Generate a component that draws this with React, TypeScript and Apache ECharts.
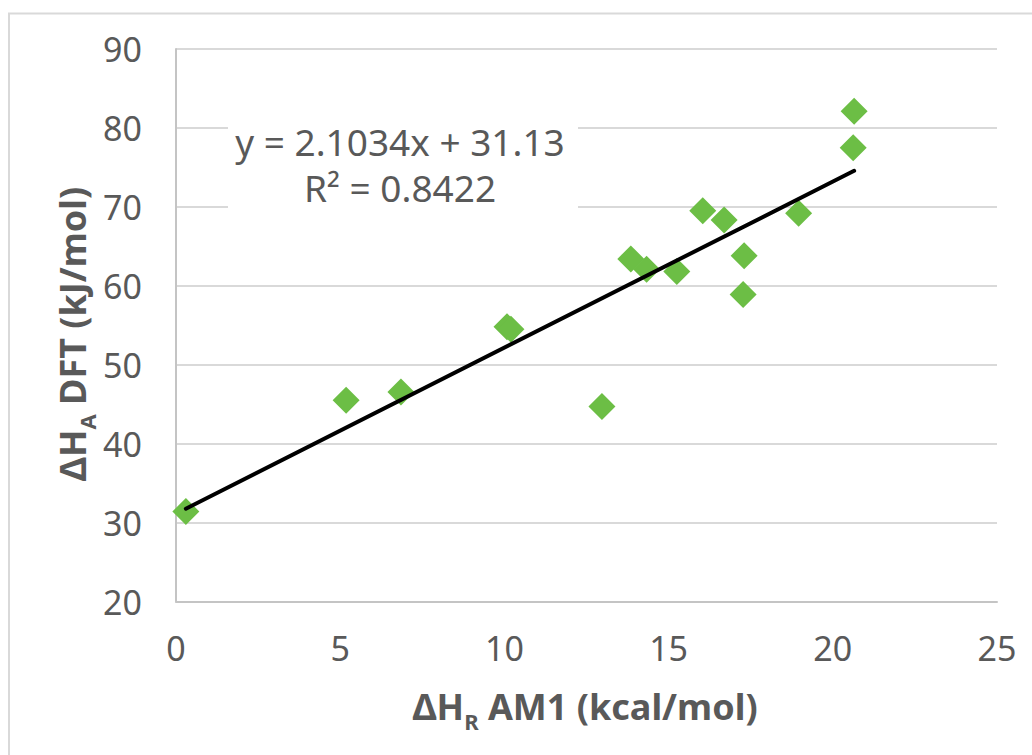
import React, { useEffect, useRef } from "react";
import * as echarts from "echarts";

const xValues = [0.3, 5.18, 6.85, 10.08, 10.2, 12.97, 13.85, 14.33, 15.25, 16.04, 16.69, 17.3, 17.27, 18.96, 20.65, 20.62];
const yValues = [31.4, 45.5, 46.55, 54.8, 54.5, 44.7, 63.4, 62.1, 61.8, 69.5, 68.35, 63.8, 58.9, 69.2, 82.1, 77.5];
const slope = 2.1034;
const intercept = 31.13;
const equationText = "y = 2.1034x + 31.13\nR² = 0.8422";
const xTitle = "{b|ΔH}{s|R}{b| AM1 (kcal/mol)}";
const yTitle = "{b|ΔH}{s|A}{b| DFT (kJ/mol)}";

const FONT = "'Noto Sans', 'Open Sans', sans-serif";
const TEXT = "#595959";
const GREEN = "#6cbe45";

export default function App() {
  const ref = useRef<HTMLDivElement>(null);
  useEffect(() => {
    document.body.style.margin = "0";
    if (!ref.current) return;
    const chart = echarts.init(ref.current, undefined, { renderer: "svg" });
    const points = xValues.map((x, i) => [x, yValues[i]]);
    const xmin = Math.min(...xValues);
    const xmax = Math.max(...xValues);
    const trend = [
      [xmin, slope * xmin + intercept],
      [xmax, slope * xmax + intercept],
    ];
    const titleRich = {
      b: { fontSize: 36, fontWeight: "bold", fontFamily: FONT, fill: TEXT },
      s: { fontSize: 22, fontWeight: "bold", fontFamily: FONT, fill: TEXT, padding: [30, 0, 0, 0] },
    };
    chart.setOption({
      animation: false,
      backgroundColor: "#ffffff",
      grid: { left: 176, top: 49, right: 35, bottom: 153.5, containLabel: false },
      xAxis: {
        type: "value",
        min: 0,
        max: 25,
        interval: 5,
        axisLine: { show: true, lineStyle: { color: "#c4c4c4", width: 2 } },
        axisTick: { show: false },
        splitLine: { show: false },
        axisLabel: { color: TEXT, fontSize: 34, fontFamily: FONT, margin: 29 },
      },
      yAxis: {
        type: "value",
        min: 20,
        max: 90,
        interval: 10,
        axisLine: { show: true, lineStyle: { color: "#c4c4c4", width: 2 } },
        axisTick: { show: false },
        splitLine: { show: true, lineStyle: { color: "#d9d9d9", width: 2 } },
        axisLabel: { color: TEXT, fontSize: 34, fontFamily: FONT, margin: 34 },
      },
      series: [
        {
          type: "scatter",
          data: points,
          symbol: "diamond",
          symbolSize: 27,
          itemStyle: { color: GREEN, opacity: 1 },
          z: 2,
        },
        {
          type: "line",
          data: trend,
          showSymbol: false,
          symbol: "none",
          lineStyle: { color: "#000000", width: 4, cap: "round" },
          z: 3,
        },
      ],
      graphic: [
        {
          type: "rect",
          shape: { x: 9, y: 13.5, width: 1100, height: 1000 },
          style: { fill: "none", stroke: "#d9d9d9", lineWidth: 2 },
          silent: true,
          z: 10,
        },
        {
          type: "rect",
          shape: { x: 228, y: 113, width: 350, height: 105 },
          style: { fill: "#ffffff" },
          silent: true,
          z: 1,
        },
        {
          type: "text",
          x: 400,
          y: 164,
          z: 5,
          style: {
            text: equationText,
            fontSize: 37,
            fontFamily: FONT,
            fill: TEXT,
            lineHeight: 46,
            align: "center",
            verticalAlign: "middle",
          },
        },
        {
          type: "text",
          x: 585,
          y: 706,
          z: 5,
          style: { text: xTitle, rich: titleRich, align: "center", verticalAlign: "middle" },
        },
        {
          type: "text",
          x: 72,
          y: 334,
          rotation: Math.PI / 2,
          z: 5,
          style: { text: yTitle, rich: titleRich, align: "center", verticalAlign: "middle" },
        },
      ],
    });
    return () => chart.dispose();
  }, []);
  return <div ref={ref} style={{ width: 1032, height: 755 }} />;
}
